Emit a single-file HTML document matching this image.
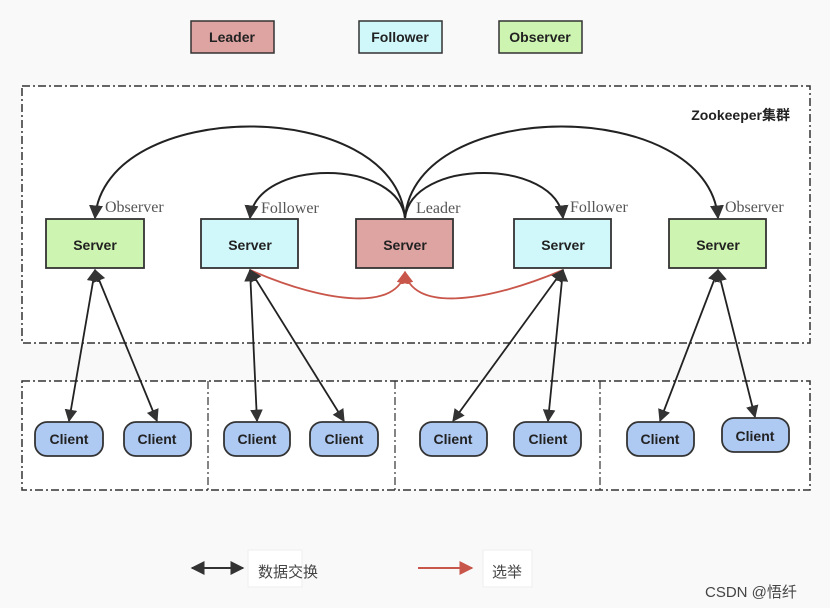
<!DOCTYPE html>
<html><head><meta charset="utf-8"><style>
html,body{margin:0;padding:0;background:#f9f9f9;}
svg{display:block;}
.h{font-family:"Liberation Sans","Noto Sans CJK SC",sans-serif;font-size:14px;fill:#222;font-weight:bold;}
.s{font-family:"Liberation Serif",serif;font-size:16px;fill:#555;}
.c{font-family:"Liberation Sans","Noto Sans CJK SC",sans-serif;font-size:15px;fill:#444;}
</style></head><body>
<svg width="830" height="608" viewBox="0 0 830 608" xmlns="http://www.w3.org/2000/svg">
<defs>
<marker id="a" viewBox="0 0 10 10" refX="9" refY="5" markerWidth="7" markerHeight="7" orient="auto-start-reverse"><path d="M0,0L10,5L0,10z" fill="#333"/></marker>
<marker id="r" viewBox="0 0 10 10" refX="9" refY="5" markerWidth="7" markerHeight="7" orient="auto-start-reverse"><path d="M0,0L10,5L0,10z" fill="#c9564a"/></marker>
</defs>
<rect width="830" height="608" fill="#f9f9f9"/>
<rect x="191" y="21" width="83" height="32" fill="#dea4a2" stroke="#333" stroke-width="1.5"/>
<text x="232" y="42" class="h" text-anchor="middle" font-weight="normal">Leader</text>
<rect x="359" y="21" width="83" height="32" fill="#d0f8fb" stroke="#333" stroke-width="1.5"/>
<text x="400" y="42" class="h" text-anchor="middle">Follower</text>
<rect x="499" y="21" width="83" height="32" fill="#cdf4b0" stroke="#333" stroke-width="1.5"/>
<text x="540" y="42" class="h" text-anchor="middle">Observer</text>
<rect x="22" y="86" width="788" height="257" fill="#fff" stroke="#333" stroke-width="1.5" stroke-dasharray="8,3,2,3"/>
<text x="790" y="120" class="h" text-anchor="end" font-size="13">Zookeeper集群</text>
<rect x="22" y="381" width="788" height="109" fill="#fff" stroke="#333" stroke-width="1.5" stroke-dasharray="8,3,2,3"/>
<g stroke="#333" stroke-width="1.2" stroke-dasharray="8,3,2,3"><line x1="208" y1="381" x2="208" y2="490"/><line x1="395" y1="381" x2="395" y2="490"/><line x1="600" y1="381" x2="600" y2="490"/></g>
<g fill="none" stroke="#222" stroke-width="2" marker-end="url(#a)">
<path d="M405,218 C395,96 105,96 95,218"/>
<path d="M405,218 C398,158 257,158 250,218"/>
<path d="M405,218 C412,158 556,158 563,218"/>
<path d="M405,218 C415,96 708,96 718,218"/>
</g>
<text x="105" y="212" class="s">Observer</text>
<text x="261" y="213" class="s">Follower</text>
<text x="416" y="213" class="s">Leader</text>
<text x="570" y="212" class="s">Follower</text>
<text x="725" y="212" class="s">Observer</text>
<g stroke="#333" stroke-width="1.8">
<rect x="46" y="219" width="98" height="49" fill="#cdf4b0"/>
<rect x="201" y="219" width="97" height="49" fill="#d0f8fb"/>
<rect x="356" y="219" width="97" height="49" fill="#dea4a2"/>
<rect x="514" y="219" width="97" height="49" fill="#d0f8fb"/>
<rect x="669" y="219" width="97" height="49" fill="#cdf4b0"/>
</g>
<g text-anchor="middle"><text x="95" y="250" class="h">Server</text><text x="250" y="250" class="h">Server</text><text x="405" y="250" class="h">Server</text><text x="563" y="250" class="h">Server</text><text x="718" y="250" class="h">Server</text></g>
<g fill="none" stroke="#c9564a" stroke-width="1.8">
<path d="M250,270 C330,305 398,310 405,272" marker-end="url(#r)"/>
<path d="M563,270 C480,305 412,310 405,272" marker-end="url(#r)"/>
</g>
<g stroke="#222" stroke-width="1.8" marker-start="url(#a)" marker-end="url(#a)">
<line x1="95" y1="270" x2="69" y2="421"/>
<line x1="95" y1="270" x2="157" y2="421"/>
<line x1="250" y1="270" x2="257" y2="421"/>
<line x1="250" y1="270" x2="344" y2="421"/>
<line x1="563" y1="270" x2="453" y2="421"/>
<line x1="563" y1="270" x2="548" y2="421"/>
<line x1="718" y1="270" x2="660" y2="421"/>
<line x1="718" y1="270" x2="755" y2="417"/>
</g>
<g fill="#aec9f2" stroke="#333" stroke-width="1.8">
<rect x="35" y="422" width="68" height="34" rx="12"/>
<rect x="124" y="422" width="67" height="34" rx="12"/>
<rect x="224" y="422" width="66" height="34" rx="12"/>
<rect x="310" y="422" width="68" height="34" rx="12"/>
<rect x="420" y="422" width="67" height="34" rx="12"/>
<rect x="514" y="422" width="67" height="34" rx="12"/>
<rect x="627" y="422" width="67" height="34" rx="12"/>
<rect x="722" y="418" width="67" height="34" rx="12"/>
</g>
<g text-anchor="middle">
<text x="69" y="444" class="h">Client</text><text x="157" y="444" class="h">Client</text>
<text x="257" y="444" class="h">Client</text><text x="344" y="444" class="h">Client</text>
<text x="453" y="444" class="h">Client</text><text x="548" y="444" class="h">Client</text>
<text x="660" y="444" class="h">Client</text><text x="755" y="441" class="h">Client</text>
</g>
<line x1="192" y1="568" x2="243" y2="568" stroke="#333" stroke-width="2" marker-start="url(#a)" marker-end="url(#a)"/>
<rect x="248" y="550" width="54" height="37" fill="#fff" stroke="#eee"/>
<text x="258" y="577" class="c">数据交换</text>
<line x1="418" y1="568" x2="472" y2="568" stroke="#c9564a" stroke-width="2" marker-end="url(#r)"/>
<rect x="483" y="550" width="49" height="37" fill="#fff" stroke="#eee"/>
<text x="492" y="577" class="c">选举</text>
<text x="705" y="597" class="c" font-size="16" fill="#999">CSDN @悟纤</text>
</svg>
</body></html>
